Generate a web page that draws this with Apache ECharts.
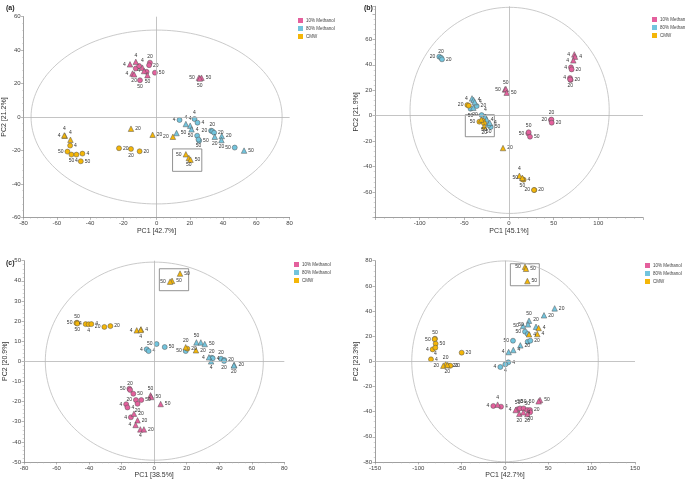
<!DOCTYPE html>
<html>
<head>
<meta charset="utf-8">
<script src="https://cdn.jsdelivr.net/npm/echarts@6/dist/echarts.min.js"></script>
<style>
  html, body { margin: 0; padding: 0; background: #fff; }
  #main { width: 685px; height: 481px; }
</style>
</head>
<body>
<div id="main"></div>
<script>
/*
 * PCA score plots, four panels
 * point = [PC1, PC2, shape (c circle / t triangle), label, label side]
 */
var groupNames = ['10% Methanol', '80% Methanol', 'CMW'];

// panel (a)
var aPink = [
  [-16, 31.5, 't', '4', 'l'], [-12.5, 33, 't', '4', 't'], [-8.5, 29.5, 't', '4', 't'],
  [-12.5, 29, 'c', '', ''], [-10.5, 30.5, 'c', '', ''], [-14.5, 26, 't', '4', 'l'],
  [-13.5, 25.5, 't', '20', 'b'], [-10, 22, 'c', '50', 'b'], [-7.5, 27.5, 't', '4', 'l'],
  [-6, 27, 'c', '', ''], [-4, 32.5, 'c', '20', 't'], [-4.5, 31, 'c', '20', 'r'],
  [-5.5, 25, 't', '50', 'b'], [-1, 26.5, 'c', '50', 'r'],
  [25.5, 23.5, 't', '50', 'l'], [27, 23.5, 't', '50', 'r'], [26, 23, 't', '50', 'b']
];
var aBlue = [
  [13.8, -1.8, 'c', '4', 'l'], [22.8, -1.2, 'c', '4', 't'], [17.6, -4.2, 't', '4', 't'],
  [20.2, -5.2, 't', '4', 't'], [24.6, -3.4, 'c', '4', 'r'], [21, -7.4, 't', '4', 'r'],
  [12, -9.6, 't', '50', 'r'], [24.4, -11.2, 'c', '50', 'l'], [25.6, -14.2, 'c', '50', 'r'],
  [25.2, -13.5, 'c', '50', 'b'], [32.8, -8.2, 'c', '20', 'l'], [33.5, -8.5, 'c', '20', 't'],
  [34.6, -9.4, 'c', '20', 'r'], [35, -11.8, 't', '20', 'b'], [39.2, -11.4, 't', '20', 'r'],
  [39, -13.8, 't', '20', 'b'], [47, -18.3, 'c', '50', 'l'], [52.6, -20.1, 't', '50', 'r']
];
var aYellow = [
  [-55.2, -11.2, 't', '4', 'l'], [-55.5, -11, 't', '4', 't'], [-51.8, -13.6, 't', '4', 't'],
  [-52, -17.1, 'c', '4', 'r'], [-53.6, -20.7, 'c', '50', 'l'], [-51.2, -22.5, 'c', '50', 'b'],
  [-48.2, -22.5, 'c', '4', 'b'], [-44.6, -21.9, 'c', '4', 'r'], [-45.6, -26.5, 'c', '50', 'r'],
  [-15.4, -7, 't', '20', 'r'], [-2.4, -10.6, 't', '20', 'r'], [9.8, -11.8, 't', '20', 'l'],
  [-22.6, -18.7, 'c', '20', 'r'], [-15.4, -19.1, 'c', '20', 'b'], [-10.2, -20.5, 'c', '20', 'r'],
  [17.6, -22.3, 't', '50', 'l'], [19.4, -24.5, 't', '50', 'b'], [20.4, -25.5, 't', '50', 'r']
];

// panel (b)
var bPink = [
  [73.1, 48.2, 't', '4', 'l'], [73.9, 46.4, 't', '4', 'r'], [72, 43.5, 't', '4', 'l'],
  [69.4, 38, 'c', '4', 'l'], [70.1, 36.4, 'c', '20', 'r'], [68.3, 29.6, 'c', '4', 'l'],
  [69, 28, 'c', '20', 'r'], [68.5, 28.5, 'c', '20', 'b'],
  [-4.5, 20.7, 't', '50', 'l'], [-3.5, 21, 't', '50', 't'], [-2.6, 18.1, 't', '50', 'r'],
  [47, -3.4, 'c', '20', 'l'], [47.5, -3, 'c', '20', 't'], [47.8, -5.5, 'c', '20', 'r'],
  [21.6, -13.9, 'c', '50', 'l'], [22, -13, 'c', '50', 't'], [23.5, -16.5, 'c', '50', 'r']
];
var bBlue = [
  [-78, 46.4, 'c', '20', 'l'], [-76, 45.5, 'c', '20', 't'], [-75, 44.3, 'c', '20', 'r'],
  [-41.4, 13.6, 't', '4', 'l'], [-39.6, 12.3, 't', '4', 'r'], [-38.4, 10.7, 't', '4', 'r'],
  [-36.2, 7.6, 'c', '20', 'r'], [-39.9, 6.3, 't', '', ''], [-43, 5.5, 'c', '50', 'b'],
  [-30.6, 0.5, 'c', '20', 'l'], [-26.5, -0.8, 't', '4', 't'], [-25, -2.9, 't', '4', 'r'],
  [-21.6, -5.5, 't', '4', 'r'], [-20.5, -8.9, 'c', '50', 'r'], [-22.8, -7.3, 'c', '50', 'b']
];
var bYellow = [
  [-46.6, 8.4, 'c', '20', 'l'], [-45, 7.9, 'c', '', ''], [-33.2, -4.7, 'c', '50', 'l'],
  [-29.5, -4, 'c', '', ''], [-28, -6, 'c', '50', 'b'], [-27.8, -8.4, 't', '20', 'b'],
  [-31, -3, 't', '', ''], [-6.7, -25.4, 't', '20', 'r'],
  [11.6, -47.2, 't', '4', 't'], [14.9, -48.8, 't', '50', 'l'], [16.4, -50.3, 'c', '4', 'r'],
  [15, -50, 'c', '50', 'b'], [28.4, -58.4, 'c', '20', 'r'], [28, -58.4, 'c', '20', 'l']
];

// panel (c)
var cPink = [
  [-15.2, -13.6, 'c', '50', 'l'], [-14.8, -14.2, 'c', '20', 't'], [-12.8, -16.1, 'c', '50', 'r'],
  [-11.2, -19.2, 'c', '20', 'l'], [-7.9, -19.2, 'c', '50', 'r'], [-10.2, -21.1, 'c', '20', 'b'],
  [-17.2, -21.3, 'c', '4', 'l'], [-16.4, -22.9, 'c', '4', 'r'], [-14.3, -27.8, 'c', '4', 'l'],
  [-2.2, -16.9, 't', '50', 't'], [-1.8, -17.7, 't', '50', 'r'], [4, -21.2, 't', '50', 'r'],
  [-12.4, -26, 't', '20', 'r'], [-10.2, -29.3, 't', '20', 'r'], [-11.4, -31.6, 't', '4', 'l'],
  [-8.5, -33.8, 't', '4', 'b'], [-6.3, -33.8, 't', '20', 'r']
];
var cBlue = [
  [1.5, 8.6, 'c', '50', 'l'], [6.5, 7.1, 'c', '50', 'r'], [-4.6, 6, 'c', '4', 'l'],
  [-3.4, 5.1, 'c', '4', 'r'], [19.4, 5.1, 'c', '50', 'l'], [26, 9.4, 't', '50', 't'],
  [28.7, 9.4, 't', '', ''], [31.1, 8.6, 't', '50', 'r'], [33.7, 2, 't', '4', 'l'],
  [35.4, 1.8, 'c', '20', 't'], [35, 0, 't', '4', 'b'], [36, 1.5, 'c', '4', 'r'],
  [41.1, 1.3, 'c', '20', 't'], [43.1, 0.7, 'c', '20', 'r'], [43, 0.2, 'c', '20', 'b'],
  [49.2, -1.8, 't', '20', 'r'], [49, -2, 't', '20', 'b']
];
var cYellow = [
  [15.9, 43.6, 't', '50', 'r'], [11, 40, 't', '50', 'r'], [9.8, 39.6, 't', '50', 'l'],
  [-47.4, 19.2, 'c', '50', 't'], [-47.8, 19, 'c', '50', 'l'], [-47.2, 18.8, 'c', '50', 'b'],
  [-42.1, 18.5, 'c', '4', 'l'], [-40.3, 18.4, 'c', '4', 'b'], [-38.6, 18.5, 'c', '4', 'r'],
  [-30.6, 17.1, 'c', '20', 'l'], [-26.9, 17.5, 'c', '20', 'r'], [-10.7, 15.4, 't', '4', 'l'],
  [-8.1, 15.9, 't', '4', 'r'], [-8.3, 15.6, 't', '4', 'b'], [19.4, 7, 't', '20', 't'],
  [20.4, 6.3, 'c', '20', 'r'], [25.7, 5.5, 't', '20', 'r']
];

// panel (d)
var dPink = [
  [40.4, -30.7, 't', '50', 'r'], [38.8, -31.8, 't', '50', 'l'], [-13.5, -35.5, 'c', '4', 'l'],
  [-8.5, -34.4, 't', '4', 't'], [-4.6, -36, 'c', '4', 'r'], [12.3, -38.7, 't', '4', 'l'],
  [14.6, -38.1, 'c', '50', 't'], [17.3, -37.4, 'c', '50', 't'], [21.5, -37.4, 'c', '50', 't'],
  [25.8, -38.7, 'c', '50', 't'], [28.8, -38.7, 'c', '20', 'r'], [16.5, -41.7, 't', '20', 'b'],
  [25.8, -41.9, 't', '20', 'b'], [21.2, -40.5, 't', '4', 'r'], [29, -40.5, 'c', '20', 'b']
];
var dBlue = [
  [57.3, 42.1, 't', '20', 'r'], [45, 36.6, 't', '20', 'r'], [27.7, 32.3, 't', '50', 't'],
  [26.5, 29.4, 't', '50', 'l'], [20.8, 28.1, 't', '50', 'l'], [35.8, 27.5, 't', '20', 't'],
  [23.1, 23.6, 'c', '50', 'l'], [26.2, 21.7, 'c', '', ''], [9.2, 16.4, 'c', '50', 'l'],
  [26.2, 15.6, 'c', '', ''], [29.2, 16.4, 'c', '20', 'r'], [17.7, 12.7, 't', '20', 'r'],
  [9.6, 9, 't', '4', 'r'], [4.2, 7.4, 't', '4', 'l'], [3.8, -0.8, 'c', '4', 'r'],
  [0.4, -2.4, 'c', '4', 'b'], [-5.4, -4.5, 'c', '4', 'l']
];
var dYellow = [
  [23.1, 75.2, 't', '50', 'l'], [24.2, 73.6, 't', '50', 'r'], [25.8, 63.8, 't', '50', 'r'],
  [-80.8, 18, 'c', '50', 't'], [-81.2, 17.6, 'c', '50', 'l'], [-80, 14, 'c', '50', 'r'],
  [-83.5, 9.5, 'c', '4', 'l'], [-80.4, 10.9, 'c', '4', 'b'], [-85.4, 1.6, 'c', '4', 'r'],
  [-50, 6.9, 'c', '20', 'r'], [-68.5, -2.1, 't', '20', 't'], [-71.2, -3.4, 't', '20', 'l'],
  [-66.5, -2.9, 't', '20', 'b'], [-65, -3.4, 'c', '20', 'r'], [-63, -3.5, 'c', '20', 'r'],
  [38.8, 26.5, 't', '4', 'r'], [37.3, 21.7, 't', '4', 'r'], [27.7, 21.5, 't', '4', 'r']
];

// axis titles
var xNames = ['PC1 [42.7%]', 'PC1 [45.1%]', 'PC1 [38.5%]', 'PC1 [42.7%]'];
var yNames = ['PC2 [21.2%]', 'PC2 [21.9%]', 'PC2 [20.9%]', 'PC2 [23.3%]'];
// [cx, cy, rx, ry] of the confidence ellipse
var ellipses = [[0, 0, 75.5, 52], [0.7, 4.2, 111.5, 81], [0.1, 0.1, 67, 49.2], [0, 0, 107.6, 79.8]];
// zoom boxes [x1, y1, x2, y2]
var boxes = [[9.6, -19.1, 27.2, -32.5], [-48.9, 0.8, -16.4, -16.5], [3.2, 46, 21.2, 35.1], [6.2, 77.6, 39.6, 60.1]];

var panels = [
  {pink: aPink, blue: aBlue, yellow: aYellow, x: [-80, 80, 20], y: [-60, 60, 20]},
  {pink: bPink, blue: bBlue, yellow: bYellow, x: [-150, 150, 50], y: [-80, 86, 20]},
  {pink: cPink, blue: cBlue, yellow: cYellow, x: [-80, 80, 20], y: [-50, 50, 10]},
  {pink: dPink, blue: dBlue, yellow: dYellow, x: [-150, 150, 50], y: [-80, 80, 20]}
];

var grids = [
  {left: 23, top: 16.7, width: 266.6, height: 200.6},
  {left: 375, top: 6.3, width: 268, height: 211.2},
  {left: 24, top: 260.7, width: 260.3, height: 201.3},
  {left: 375, top: 260.7, width: 260, height: 201.3}
];
var colors = ['#e4609d', '#72c4dd', '#f4b608'];
var FONT = 'Liberation Sans, Arial, sans-serif';
var posMap = {l: 'left', r: 'right', t: 'top', b: 'bottom'};

function toItems(arr, shape) {
  var res = [];
  for (var i = 0; i < arr.length; i++) {
    if (arr[i][2] !== shape) continue;
    res.push({
      value: [arr[i][0], arr[i][1]],
      name: arr[i][3],
      label: {show: arr[i][3] !== '', position: posMap[arr[i][4]] || 'right'}
    });
  }
  return res;
}

var xAxes = [], yAxes = [], series = [], legends = [];
panels.forEach(function (p, k) {
  var hideEnds = (k === 1);
  xAxes.push({
    type: 'value', gridIndex: k, min: p.x[0], max: p.x[1], interval: p.x[2],
    name: xNames[k], nameLocation: 'middle', nameGap: 10,
    nameTextStyle: {fontSize: 7, color: '#333', fontFamily: FONT},
    axisLine: {onZero: false, lineStyle: {color: '#888', width: 0.8}},
    axisTick: {length: 2.5, lineStyle: {color: '#888', width: 0.6}},
    minorTick: {show: true, splitNumber: 5, length: 1.3, lineStyle: {color: '#aaa', width: 0.5}},
    axisLabel: {fontSize: 6, color: '#444', margin: 3, fontFamily: FONT,
      showMinLabel: !hideEnds, showMaxLabel: !hideEnds},
    splitLine: {show: false}
  });
  yAxes.push({
    type: 'value', gridIndex: k, min: p.y[0], max: p.y[1], interval: p.y[2],
    name: yNames[k], nameLocation: 'middle', nameGap: 13, nameRotate: 90,
    nameTextStyle: {fontSize: 7, color: '#333', fontFamily: FONT},
    axisLine: {onZero: false, lineStyle: {color: '#888', width: 0.8}},
    axisTick: {length: 2.5, lineStyle: {color: '#888', width: 0.6}},
    minorTick: {show: true, splitNumber: 5, length: 1.3, lineStyle: {color: '#aaa', width: 0.5}},
    axisLabel: {fontSize: 6, color: '#444', margin: 3, fontFamily: FONT,
      formatter: function (v) { return (hideEnds && Math.abs(v) >= 80) ? '' : String(v); }},
    splitLine: {show: false}
  });

  // ellipse
  series.push({
    type: 'custom', xAxisIndex: k, yAxisIndex: k, silent: true, z: 1,
    data: [ellipses[k]],
    encode: {x: 0, y: 1},
    renderItem: function (params, api) {
      var cx = api.value(0), cy = api.value(1), rx = api.value(2), ry = api.value(3);
      var pts = [];
      for (var j = 0; j <= 160; j++) {
        var t = j / 160 * Math.PI * 2;
        pts.push(api.coord([cx + rx * Math.cos(t), cy + ry * Math.sin(t)]));
      }
      return {type: 'polyline', shape: {points: pts},
        style: {stroke: '#bdbdbd', lineWidth: 0.8, fill: null}};
    }
  });

  var groups = [p.pink, p.blue, p.yellow];
  groups.forEach(function (g, gi) {
    ['c', 't'].forEach(function (shape) {
      var s = {
        name: groupNames[gi], type: 'scatter', xAxisIndex: k, yAxisIndex: k, z: 3,
        symbol: shape === 'c' ? 'circle' : 'triangle',
        symbolSize: shape === 'c' ? 5 : 5.5,
        data: toItems(g, shape),
        itemStyle: {color: colors[gi], borderColor: '#555', borderWidth: 0.5, opacity: 1},
        label: {formatter: '{b}', fontSize: 5, color: '#333', distance: 1.2, fontFamily: FONT},
        emphasis: {disabled: true},
        animation: false
      };
      if (gi === 0 && shape === 'c') {
        s.markLine = {
          silent: true, symbol: 'none', animation: false,
          label: {show: false},
          lineStyle: {color: '#b5b5b5', width: 0.8, type: 'solid'},
          data: [{xAxis: 0}, {yAxis: 0}]
        };
      }
      if (gi === 2 && shape === 'c') {
        var b = boxes[k];
        s.markArea = {
          silent: true, animation: false,
          itemStyle: {color: 'rgba(0,0,0,0)', borderColor: '#777', borderWidth: 0.8},
          data: [[{coord: [b[0], b[1]]}, {coord: [b[2], b[3]]}]]
        };
      }
      series.push(s);
    });
  });
});

var legendPos = [[293, 13], [647, 12], [289, 257], [640, 258]];
legendPos.forEach(function (lp) {
  legends.push({
    data: groupNames, orient: 'vertical', left: lp[0], top: lp[1],
    icon: 'rect', itemWidth: 5, itemHeight: 5, itemGap: 3,
    itemStyle: {borderWidth: 0},
    textStyle: {fontSize: 4.5, color: '#444', fontFamily: FONT, padding: [0, 0, 0, -2]},
    selectedMode: false
  });
});

var chart = echarts.init(document.getElementById('main'), null, {renderer: 'canvas'});
chart.setOption({
  backgroundColor: '#fff',
  animation: false,
  title: [
    {text: '(a)', left: 1, top: 0, textStyle: {fontSize: 7, fontWeight: 'bold', color: '#222', fontFamily: FONT}},
    {text: '(b)', left: 359, top: 0, textStyle: {fontSize: 7, fontWeight: 'bold', color: '#222', fontFamily: FONT}},
    {text: '(c)', left: 1, top: 255, textStyle: {fontSize: 7, fontWeight: 'bold', color: '#222', fontFamily: FONT}}
  ],
  legend: legends,
  grid: grids,
  xAxis: xAxes,
  yAxis: yAxes,
  series: series
});
</script>
</body>
</html>
